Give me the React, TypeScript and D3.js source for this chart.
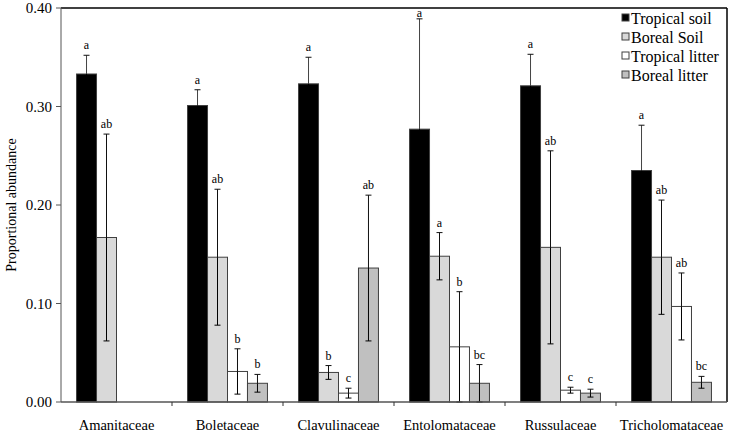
import React from "react";
import * as d3 from "d3";

const categories = ["Amanitaceae", "Boletaceae", "Clavulinaceae", "Entolomataceae", "Russulaceae", "Tricholomataceae"];
const seriesNames = ["Tropical soil", "Boreal Soil", "Tropical litter", "Boreal litter"];
const seriesColors = ["#000000", "#d9d9d9", "#ffffff", "#c0c0c0"];

const tropicalSoil = [0.333, 0.301, 0.323, 0.277, 0.321, 0.235];
const tropicalSoilErr = [0.019, 0.016, 0.027, 0.112, 0.032, 0.046];
const borealSoil = [0.167, 0.147, 0.030, 0.148, 0.157, 0.147];
const borealSoilErr = [0.105, 0.069, 0.007, 0.024, 0.098, 0.058];
const tropicalLitter = [null, 0.031, 0.009, 0.056, 0.012, 0.097];
const tropicalLitterErr = [null, 0.023, 0.005, 0.056, 0.003, 0.034];
const borealLitter = [null, 0.019, 0.136, 0.019, 0.009, 0.020];
const borealLitterErr = [null, 0.009, 0.074, 0.019, 0.004, 0.006];

const tropicalSoilLetters = ["a", "a", "a", "a", "a", "a"];
const borealSoilLetters = ["ab", "ab", "b", "a", "ab", "ab"];
const tropicalLitterLetters = ["", "b", "c", "b", "c", "ab"];
const borealLitterLetters = ["", "b", "ab", "bc", "c", "bc"];

const yTicks = [0, 0.1, 0.2, 0.3, 0.4];

const seriesValues = [tropicalSoil, borealSoil, tropicalLitter, borealLitter];
const seriesErrs = [tropicalSoilErr, borealSoilErr, tropicalLitterErr, borealLitterErr];
const seriesLetters = [tropicalSoilLetters, borealSoilLetters, tropicalLitterLetters, borealLitterLetters];

export default function App() {
  const W = 730, H = 433;
  const left = 61, right = 727, top = 8, bottom = 402;
  const x = d3.scaleBand<string>().domain(categories).range([left, right]).paddingInner(0).paddingOuter(0);
  const y = d3.scaleLinear().domain([0, 0.4]).range([bottom, top]);
  const groupW = x.bandwidth() * 0.72;
  const font = '"Liberation Serif", "DejaVu Serif", serif';

  return (
    <svg width={W} height={H} style={{ position: "absolute", left: 0, top: 0, background: "#fff", fontFamily: font }}>
      <rect x={0} y={0} width={W} height={H} fill="#fff" />
      {categories.map((c, ci) => {
        const cx = (x(c) as number) + x.bandwidth() / 2;
        const inner = d3.scaleBand<string>().domain(seriesNames).range([cx - groupW / 2, cx + groupW / 2]);
        return (
          <g key={c}>
            {seriesNames.map((s, si) => {
              const v = seriesValues[si][ci];
              if (v == null) return null;
              const e = seriesErrs[si][ci] as number;
              const bx = inner(s) as number;
              const bw = inner.bandwidth();
              const mx = bx + bw / 2;
              const hi = v + e;
              const lo = Math.max(0, v - e);
              const upColor = si === 0 ? "#444" : "#111";
              return (
                <g key={s}>
                  <rect x={bx} y={y(v)} width={bw} height={bottom - y(v)} fill={seriesColors[si]} stroke="#404040" strokeWidth={1} />
                  <line x1={mx} x2={mx} y1={y(hi)} y2={y(v)} stroke={upColor} strokeWidth={1} />
                  <line x1={mx} x2={mx} y1={y(v)} y2={y(lo)} stroke="#000" strokeWidth={1} />
                  <line x1={mx - 3} x2={mx + 3} y1={y(hi)} y2={y(hi)} stroke="#111" strokeWidth={1} />
                  <line x1={mx - 3} x2={mx + 3} y1={y(lo)} y2={y(lo)} stroke="#000" strokeWidth={1} />
                  <text x={mx} y={Math.max(y(hi) - 6, top + 9)} textAnchor="middle" fontSize={12} fill="#000" style={{ fontFamily: font }}>{seriesLetters[si][ci]}</text>
                </g>
              );
            })}
          </g>
        );
      })}
      <line x1={left} x2={right} y1={top} y2={top} stroke="#000" strokeWidth={1.5} />
      <line x1={right} x2={right} y1={top} y2={bottom} stroke="#000" strokeWidth={1.5} />
      <line x1={left} x2={left} y1={top} y2={bottom} stroke="#555" strokeWidth={1} />
      {yTicks.map((t) => (
        <g key={t}>
          <line x1={left - 5} x2={left} y1={y(t)} y2={y(t)} stroke="#555" />
          <text x={left - 9} y={y(t)} dy="0.35em" textAnchor="end" fontSize={15} fill="#000" style={{ fontFamily: font }}>{d3.format(".2f")(t)}</text>
        </g>
      ))}
      <line x1={left} x2={right} y1={bottom} y2={bottom} stroke="#555" strokeWidth={1.5} />
      {categories.map((c, ci) => (
        <g key={c}>
          {ci > 0 && <line x1={x(c) as number} x2={x(c) as number} y1={bottom} y2={bottom + 4} stroke="#333" />}
          <text x={(x(c) as number) + x.bandwidth() / 2} y={430} textAnchor="middle" fontSize={14.5} fill="#000" style={{ fontFamily: font }}>{c}</text>
        </g>
      ))}
      <text transform={`translate(16,${(top + bottom) / 2}) rotate(-90)`} textAnchor="middle" fontSize={14} fill="#000" style={{ fontFamily: font }}>Proportional abundance</text>
      {seriesNames.map((s, si) => (
        <g key={s} transform={`translate(622,${18 + si * 19})`}>
          <rect x={0} y={-4} width={7} height={7} fill={seriesColors[si]} stroke="#404040" strokeWidth={1} />
          <text x={9} y={0} dy="0.35em" fontSize={16} fill="#000" style={{ fontFamily: font }}>{s}</text>
        </g>
      ))}
    </svg>
  );
}
